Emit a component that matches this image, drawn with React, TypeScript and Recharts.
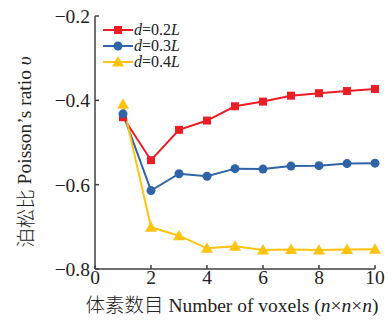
import { LineChart, Line, XAxis, YAxis, Legend, Label } from 'recharts';

const voxels = [1, 2, 3, 4, 5, 6, 7, 8, 9, 10];
const d02 = [-0.44, -0.542, -0.47, -0.448, -0.414, -0.403, -0.389, -0.383, -0.378, -0.373];
const d03 = [-0.432, -0.614, -0.574, -0.58, -0.562, -0.563, -0.556, -0.555, -0.55, -0.549];
const d04 = [-0.409, -0.701, -0.721, -0.751, -0.746, -0.755, -0.754, -0.755, -0.754, -0.753];
const xTicks = [0, 2, 4, 6, 8, 10];
const yTicks = [-0.8, -0.6, -0.4, -0.2];

const data = voxels.map((n, i) => ({ n, a: d02[i], b: d03[i], c: d04[i] }));

const SERIES = [
  { key: 'a', label: '0.2', color: '#ee1c25', shape: 'square' },
  { key: 'b', label: '0.3', color: '#2f64a6', shape: 'circle' },
  { key: 'c', label: '0.4', color: '#ffc20e', shape: 'triangle' },
];

const FONT = '"Liberation Serif", "Noto Sans CJK SC", serif';
const CJK = '"Noto Sans CJK SC", sans-serif';
const AXIS = '#404040';

function Marker({ cx, cy, color, shape }: any) {
  if (cx == null || cy == null) return null;
  if (shape === 'square') return <rect x={cx - 4} y={cy - 4} width={8} height={8} fill={color} />;
  if (shape === 'circle') return <circle cx={cx} cy={cy} r={4.5} fill={color} />;
  return <polygon points={`${cx},${cy - 6} ${cx - 6},${cy + 4.5} ${cx + 6},${cy + 4.5}`} fill={color} />;
}

const minus = (v: number) => String(v).replace('-', '\u2212');

function LegendBox() {
  return (
    <div style={{ fontFamily: FONT, fontSize: 16, lineHeight: '16px', color: '#222' }}>
      {SERIES.map((s) => (
        <div key={s.key} style={{ display: 'flex', alignItems: 'center', height: 16 }}>
          <svg width={30} height={14} style={{ marginRight: 1 }}>
            <line x1={0} y1={7} x2={30} y2={7} stroke={s.color} strokeWidth={2} />
            <Marker cx={15} cy={7} color={s.color} shape={s.shape} />
          </svg>
          <span>
            <i>d</i>=0{s.label.slice(1)}<i>L</i>
          </span>
        </div>
      ))}
    </div>
  );
}

export default function App() {
  return (
    <div style={{ position: 'absolute', left: 0, top: 0 }}>
      <LineChart width={392} height={320} data={data} margin={{ top: 16, right: 17, bottom: 0, left: 0 }}>
        <XAxis
          dataKey="n"
          type="number"
          domain={[0, 10]}
          ticks={xTicks}
          height={51}
          stroke={AXIS}
          strokeWidth={1.5}
          tickSize={-4}
          tickMargin={5}
          tick={{ fontFamily: FONT, fontSize: 19.5, fill: '#222' }}
        >
          <Label
            content={() => (
              <text x={232} y={312} textAnchor="middle" fontFamily={FONT} fontSize={19.5} fill="#222">
                <tspan fontFamily={CJK} fontWeight={300}>体素数目</tspan> Number of voxels (
                <tspan fontStyle="italic">n</tspan>×<tspan fontStyle="italic">n</tspan>×
                <tspan fontStyle="italic">n</tspan>)
              </text>
            )}
          />
        </XAxis>
        <YAxis
          type="number"
          domain={[-0.8, -0.2]}
          ticks={yTicks}
          width={95}
          stroke={AXIS}
          strokeWidth={1.5}
          tickSize={-4}
          tickMargin={9}
          tickFormatter={minus}
          tick={{ fontFamily: FONT, fontSize: 19.5, fill: '#222' }}
        >
          <Label
            content={() => (
              <text
                x={24}
                y={152}
                transform="rotate(-90 24 152)"
                textAnchor="middle"
                dominantBaseline="central"
                fontFamily={FONT}
                fontSize={19.5}
                fill="#222"
              >
                <tspan fontFamily={CJK} fontWeight={300}>泊松比</tspan> Poisson’s ratio{' '}
                <tspan fontStyle="italic">υ</tspan>
              </text>
            )}
          />
        </YAxis>
        <Legend
          layout="vertical"
          align="center"
          verticalAlign="middle"
          wrapperStyle={{ left: 103, top: 22, width: 90 }}
          content={() => <LegendBox />}
        />
        {SERIES.map((s) => (
          <Line
            key={s.key}
            dataKey={s.key}
            type="linear"
            stroke={s.color}
            strokeWidth={2}
            isAnimationActive={false}
            dot={(p: any) => <Marker key={`${s.key}-${p.index}`} cx={p.cx} cy={p.cy} color={s.color} shape={s.shape} />}
            activeDot={false}
          />
        ))}
      </LineChart>
    </div>
  );
}
